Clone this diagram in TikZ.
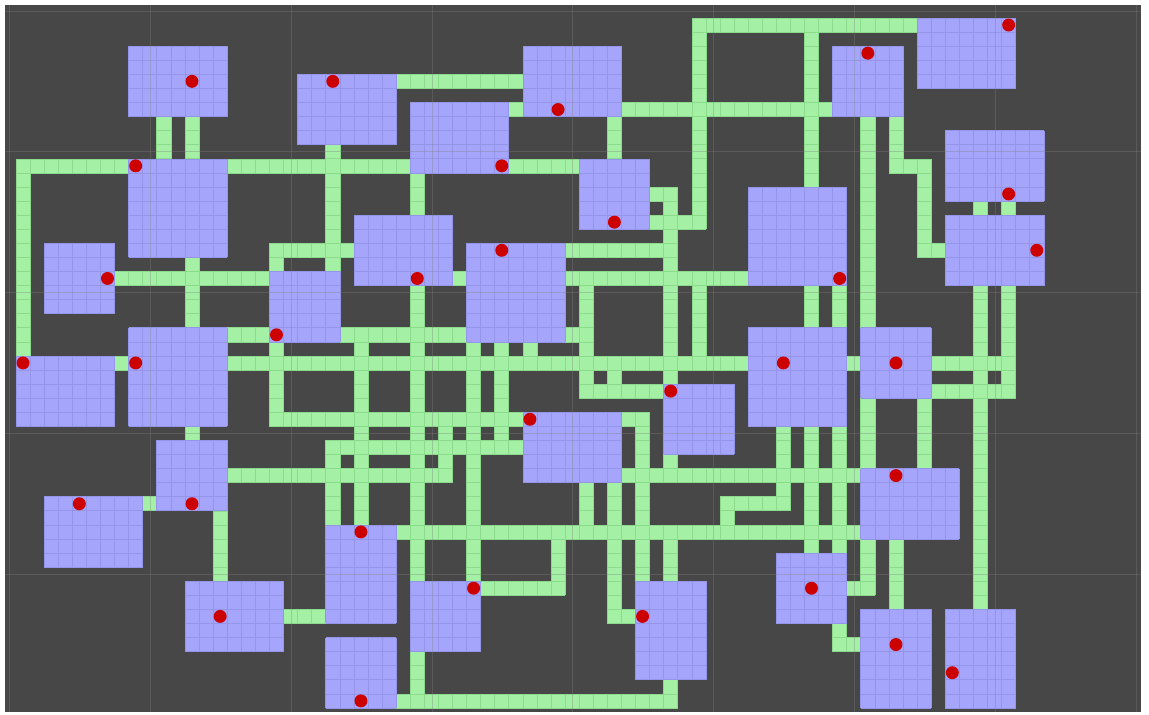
\documentclass[tikz,border=0pt]{standalone}
\definecolor{floorgray}{RGB}{71,71,71}
\definecolor{roomblue}{RGB}{165,165,252}
\definecolor{roomline}{RGB}{148,148,232}
\definecolor{hallgreen}{RGB}{164,240,164}
\definecolor{hallline}{RGB}{140,218,140}
\definecolor{doorred}{RGB}{205,0,0}
% a room or a corridor strip, given by cell edges {col0}{row0}{col1}{row1}
\newcommand{\room}[4]{\fill[room] (#1,-#4) rectangle (#3,-#2);
  \draw[roomgrid] (#1,-#4) grid (#3,-#2);}
\newcommand{\hall}[4]{\fill[hall] (#1,-#4) rectangle (#3,-#2);
  \draw[hallgrid] (#1,-#4) grid (#3,-#2);}

\begin{document}
\begin{tikzpicture}[
    x=14.08bp, y=14.08bp,
    room/.style={fill=roomblue},
    roomgrid/.style={roomline, line width=0.6bp, step=1},
    hall/.style={fill=hallgreen},
    hallgrid/.style={hallline, line width=0.6bp, step=1},
    door/.style={fill=doorred},
    bigline/.style={gray, opacity=0.35, line width=0.8bp}
    ]

    \useasboundingbox (-1.136,1.278) rectangle (80.47,-49.50);
    \fill[white] (-1.136,1.278) rectangle (80.47,-49.50);
    \fill[floorgray] (-0.78,0.92) rectangle (79.9,-49.29);

    % corridors, horizontal
    \hall{48}{0}{64}{1}    \hall{27}{4}{36}{5}    \hall{35}{6}{36}{7}
    \hall{43}{6}{58}{7}    \hall{0}{10}{40}{11}   \hall{62}{10}{65}{11}
    \hall{45}{12}{47}{13}  \hall{45}{14}{48}{15}  \hall{18}{16}{24}{17}
    \hall{39}{16}{46}{17}  \hall{64}{16}{66}{17}  \hall{7}{18}{18}{19}
    \hall{31}{18}{32}{19}  \hall{39}{18}{52}{19}  \hall{15}{22}{18}{23}
    \hall{23}{22}{32}{23}  \hall{39}{22}{41}{23}  \hall{7}{24}{8}{25}
    \hall{15}{24}{52}{25}  \hall{59}{24}{60}{25}  \hall{65}{24}{71}{25}
    \hall{40}{26}{46}{27}  \hall{65}{26}{71}{27}  \hall{18}{28}{36}{29}
    \hall{43}{28}{45}{29}  \hall{22}{30}{36}{31}  \hall{15}{32}{31}{33}
    \hall{43}{32}{60}{33}  \hall{9}{34}{10}{35}   \hall{50}{34}{55}{35}
    \hall{27}{36}{60}{37}  \hall{33}{40}{39}{41}  \hall{59}{40}{61}{41}
    \hall{19}{42}{22}{43}  \hall{43}{42}{44}{43}  \hall{58}{44}{60}{45}
    \hall{27}{48}{47}{49}

    % corridors, vertical
    \hall{0}{10}{1}{24}    \hall{10}{7}{11}{10}   \hall{12}{7}{13}{10}
    \hall{12}{17}{13}{22}  \hall{12}{29}{13}{30}  \hall{14}{35}{15}{40}
    \hall{18}{16}{19}{18}  \hall{18}{23}{19}{29}  \hall{22}{9}{23}{18}
    \hall{22}{30}{23}{36}  \hall{24}{22}{25}{36}  \hall{28}{11}{29}{14}
    \hall{28}{19}{29}{40}  \hall{28}{45}{29}{48}  \hall{30}{28}{31}{33}
    \hall{32}{23}{33}{40}  \hall{34}{23}{35}{31}  \hall{36}{23}{37}{24}
    \hall{38}{36}{39}{41}  \hall{40}{18}{41}{27}  \hall{40}{33}{41}{36}
    \hall{42}{7}{43}{10}   \hall{42}{25}{43}{26}  \hall{42}{33}{43}{43}
    \hall{44}{28}{45}{40}  \hall{46}{12}{47}{26}  \hall{46}{31}{47}{32}
    \hall{46}{36}{47}{40}  \hall{46}{47}{47}{48}  \hall{48}{0}{49}{15}
    \hall{48}{19}{49}{24}  \hall{50}{34}{51}{36}  \hall{54}{29}{55}{35}
    \hall{56}{0}{57}{12}   \hall{56}{19}{57}{22}  \hall{56}{29}{57}{38}
    \hall{58}{19}{59}{22}  \hall{58}{29}{59}{38}  \hall{58}{43}{59}{45}
    \hall{60}{7}{61}{22}   \hall{60}{27}{61}{32}  \hall{60}{37}{61}{41}
    \hall{62}{7}{63}{11}   \hall{62}{37}{63}{42}  \hall{64}{10}{65}{17}
    \hall{64}{27}{65}{32}  \hall{68}{13}{69}{14}  \hall{70}{13}{71}{14}
    \hall{68}{19}{69}{42}  \hall{70}{19}{71}{27}

    % rooms
    \room{8}{2}{15}{7}     \room{20}{4}{27}{9}    \room{36}{2}{43}{7}
    \room{28}{6}{35}{11}   \room{40}{10}{45}{15}  \room{64}{0}{71}{5}
    \room{58}{2}{63}{7}    \room{66}{8}{73}{13}   \room{66}{14}{73}{19}
    \room{52}{12}{59}{19}  \room{32}{16}{39}{23}  \room{24}{14}{31}{19}
    \room{18}{18}{23}{23}  \room{2}{16}{7}{21}    \room{8}{10}{15}{17}
    \room{8}{22}{15}{29}   \room{0}{24}{7}{29}    \room{10}{30}{15}{35}
    \room{2}{34}{9}{39}    \room{12}{40}{19}{45}  \room{22}{36}{27}{43}
    \room{22}{44}{27}{49}  \room{28}{40}{33}{45}  \room{44}{40}{49}{47}
    \room{36}{28}{43}{33}  \room{46}{26}{51}{31}  \room{52}{22}{59}{29}
    \room{60}{22}{65}{27}  \room{60}{32}{67}{37}  \room{54}{38}{59}{43}
    \room{60}{42}{65}{49}  \room{66}{42}{71}{49}

    % doors
    \fill[door] (12.5,-4.5) circle (0.46);   \fill[door] (22.5,-4.5) circle (0.46);
    \fill[door] (38.5,-6.5) circle (0.46);   \fill[door] (34.5,-10.5) circle (0.46);
    \fill[door] (42.5,-14.5) circle (0.46);  \fill[door] (70.5,-0.5) circle (0.46);
    \fill[door] (60.5,-2.5) circle (0.46);   \fill[door] (70.5,-12.5) circle (0.46);
    \fill[door] (72.5,-16.5) circle (0.46);  \fill[door] (58.5,-18.5) circle (0.46);
    \fill[door] (34.5,-16.5) circle (0.46);  \fill[door] (28.5,-18.5) circle (0.46);
    \fill[door] (18.5,-22.5) circle (0.46);  \fill[door] (6.5,-18.5) circle (0.46);
    \fill[door] (8.5,-10.5) circle (0.46);   \fill[door] (8.5,-24.5) circle (0.46);
    \fill[door] (0.5,-24.5) circle (0.46);   \fill[door] (12.5,-34.5) circle (0.46);
    \fill[door] (4.5,-34.5) circle (0.46);   \fill[door] (14.5,-42.5) circle (0.46);
    \fill[door] (24.5,-36.5) circle (0.46);  \fill[door] (24.5,-48.5) circle (0.46);
    \fill[door] (32.5,-40.5) circle (0.46);  \fill[door] (44.5,-42.5) circle (0.46);
    \fill[door] (36.5,-28.5) circle (0.46);  \fill[door] (46.5,-26.5) circle (0.46);
    \fill[door] (54.5,-24.5) circle (0.46);  \fill[door] (62.5,-24.5) circle (0.46);
    \fill[door] (62.5,-32.5) circle (0.46);  \fill[door] (56.5,-40.5) circle (0.46);
    \fill[door] (62.5,-44.5) circle (0.46);  \fill[door] (66.5,-46.5) circle (0.46);

    % coarse grid over everything
    \draw[bigline] (-0.45,0.92) -- (-0.45,-49.29) (9.55,0.92) -- (9.55,-49.29)
        (19.55,0.92) -- (19.55,-49.29) (29.55,0.92) -- (29.55,-49.29)
        (39.55,0.92) -- (39.55,-49.29) (49.55,0.92) -- (49.55,-49.29)
        (59.55,0.92) -- (59.55,-49.29) (69.55,0.92) -- (69.55,-49.29)
        (79.55,0.92) -- (79.55,-49.29);
    \draw[bigline] (-0.78,0.5) -- (79.9,0.5) (-0.78,-9.5) -- (79.9,-9.5)
        (-0.78,-19.5) -- (79.9,-19.5) (-0.78,-29.5) -- (79.9,-29.5)
        (-0.78,-39.5) -- (79.9,-39.5);

\end{tikzpicture}
\end{document}
